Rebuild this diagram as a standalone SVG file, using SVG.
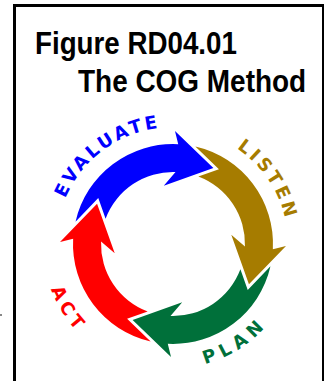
<svg xmlns="http://www.w3.org/2000/svg" xmlns:xlink="http://www.w3.org/1999/xlink" width="324" height="381" viewBox="0 0 324 381">
  <style>
    .title { font-family: "Liberation Sans", Arial, sans-serif; font-weight: bold; font-size: 32px; fill: #000; }
    .stage { font-family: "DejaVu Sans", Verdana, sans-serif; font-weight: bold; font-size: 18px; }
  </style>
  <defs>
    <!-- one curved arrow segment, centred on the origin, tip at angle 0 -->
    <path id="seg" d="M -26.01,-96.56 A 100 100 0 0 1 90.63,-42.26 L 100.68,-51.30 L 86,0 L 47.12,-35.51 L 64.71,-31.56 A 72 72 0 0 0 -9.27,-71.40 L 5.48,-87.55 Z"/>
    <!-- label baselines around the cycle centre (173,244) -->
    <path id="arcEval" d="M 56,244 A 117 117 0 0 1 213.02,134.06"/>
    <path id="arcListen" d="M 173,129 A 115 115 0 0 1 286.25,263.97"/>
    <path id="arcPlan" d="M 130.59,360.52 A 124 124 0 0 0 295.12,265.53"/>
    <path id="arcAct" d="M 50.84,199.54 A 130 130 0 0 0 150.43,372.03"/>
  </defs>

  <!-- frame -->
  <rect x="14.5" y="5.5" width="309" height="400" fill="none" stroke="#000" stroke-width="3"/>
  <rect x="0" y="314" width="2" height="2" fill="#888"/>

  <g id="title">
    <text class="title" x="40.37" y="54" transform="scale(0.867 1)">Figure RD04.01</text>
    <text class="title" x="89.29" y="92" transform="scale(0.8736 1)">The COG Method</text>
  </g>

  <g id="connectors">
    <use id="arrow-evaluate" xlink:href="#seg" href="#seg" fill="#0000FF" transform="translate(173,244) rotate(-62)"/>
    <use id="arrow-listen" xlink:href="#seg" href="#seg" fill="#A67C00" transform="translate(173,244) rotate(28)"/>
    <use id="arrow-plan" xlink:href="#seg" href="#seg" fill="#00703A" transform="translate(173,244) rotate(118)"/>
    <use id="arrow-act" xlink:href="#seg" href="#seg" fill="#FF0000" transform="translate(173,244) rotate(208)"/>
  </g>

  <g id="evaluate">
    <text class="stage" fill="#0000FF" letter-spacing="3"><textPath xlink:href="#arcEval" href="#arcEval" startOffset="48.6%" text-anchor="middle">EVALUATE</textPath></text>
  </g>
  <g id="listen">
    <text class="stage" fill="#A67C00" letter-spacing="3.2"><textPath xlink:href="#arcListen" href="#arcListen" startOffset="56%" text-anchor="middle">LISTEN</textPath></text>
  </g>
  <g id="plan">
    <text class="stage" fill="#00703A" letter-spacing="5.5"><textPath xlink:href="#arcPlan" href="#arcPlan" startOffset="52.4%" text-anchor="middle">PLAN</textPath></text>
  </g>
  <g id="act">
    <text class="stage" fill="#FF0000" letter-spacing="4.5"><textPath xlink:href="#arcAct" href="#arcAct" startOffset="52%" text-anchor="middle">ACT</textPath></text>
  </g>
</svg>
